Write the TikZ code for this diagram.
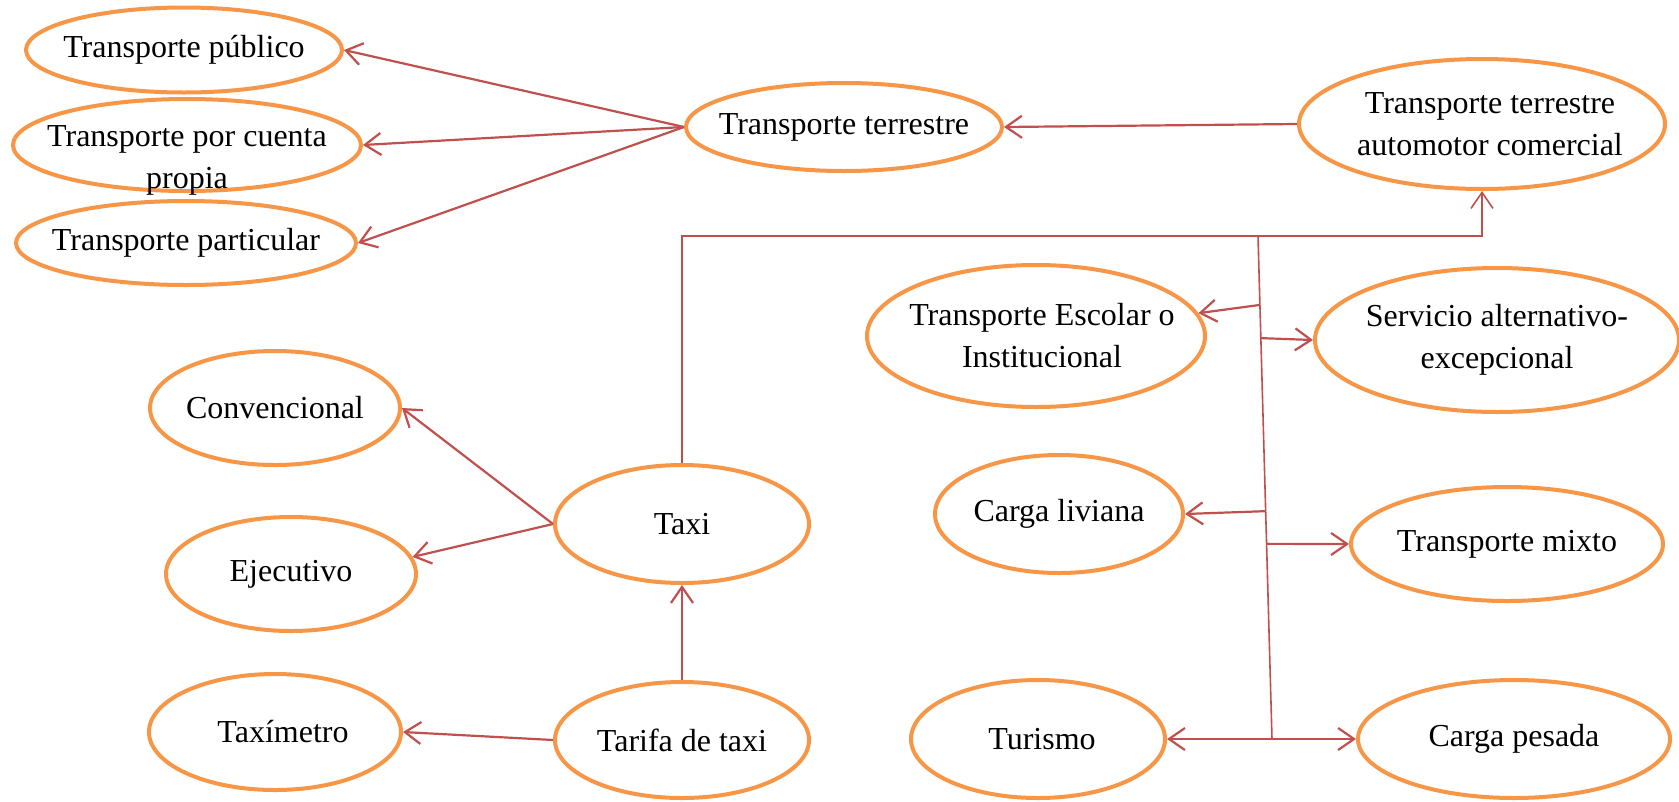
\documentclass[tikz,border=0pt]{standalone}
\usepackage{fontspec}
\setmainfont{Liberation Serif}
\usetikzlibrary{shapes.geometric,arrows.meta,calc}
\definecolor{naranja}{HTML}{F79646}
\definecolor{rojo}{HTML}{C0504D}
\begin{document}
\begin{tikzpicture}[x=1pt,y=-1pt,
    elipse/.style={ellipse,draw=naranja,line width=4pt,inner sep=0pt},
    texto/.style={font=\fontsize{32}{42}\selectfont,align=center},
    flecha/.style={draw=rojo,line width=2.2pt,-{Straight Barb[length=16pt,width=22pt]}},
    linea/.style={draw=rojo,line width=1.6pt}]
\useasboundingbox (0,0) rectangle (1679,801);
% izquierda arriba
\node[elipse,minimum width=316pt,minimum height=85pt,label={[texto]center:Transporte público}] (tpub) at (184,50) {};
\node[elipse,minimum width=348pt,minimum height=92pt,label={[texto,yshift=-15pt]center:Transporte por cuenta\\propia}] (tcp) at (187,145) {};
\node[elipse,minimum width=340pt,minimum height=84pt,label={[texto]center:Transporte particular}] (tpar) at (186,243) {};
\node[elipse,minimum width=316pt,minimum height=88pt,label={[texto]center:Transporte terrestre}] (tt) at (844,127) {};
\node[elipse,minimum width=366pt,minimum height=130pt,label={[texto,xshift=8pt]center:Transporte terrestre\\automotor comercial}] (ttac) at (1482,124) {};
% taxi
\node[elipse,minimum width=250pt,minimum height=114pt,label={[texto]center:Convencional}] (conv) at (275,408) {};
\node[elipse,minimum width=250pt,minimum height=114pt,label={[texto]center:Ejecutivo}] (ejec) at (291,574) {};
\node[elipse,minimum width=254pt,minimum height=118pt,label={[texto]center:Taxi}] (taxi) at (682,524) {};
\node[elipse,minimum width=252pt,minimum height=116pt,label={[texto,xshift=8pt]center:Taxímetro}] (taxim) at (275,732) {};
\node[elipse,minimum width=254pt,minimum height=116pt,label={[texto]center:Tarifa de taxi}] (tarifa) at (682,740) {};
% comercial
\node[elipse,minimum width=338pt,minimum height=142pt,label={[texto,xshift=6pt]center:Transporte Escolar o\\Institucional}] (escolar) at (1036,336) {};
\node[elipse,minimum width=364pt,minimum height=144pt,label={[texto]center:Servicio alternativo-\\excepcional}] (servicio) at (1497,340) {};
\node[elipse,minimum width=248pt,minimum height=118pt,label={[texto]center:Carga liviana}] (liviana) at (1059,514) {};
\node[elipse,minimum width=312pt,minimum height=114pt,label={[texto]center:Transporte mixto}] (mixto) at (1507,544) {};
\node[elipse,minimum width=254pt,minimum height=118pt,label={[texto,xshift=4pt]center:Turismo}] (turismo) at (1038,739) {};
\node[elipse,minimum width=312pt,minimum height=118pt,label={[texto]center:Carga pesada}] (pesada) at (1514,739) {};
% flechas
\draw[flecha] (tt.west) -- (tpub.east);
\draw[flecha] (tt.west) -- (tcp.east);
\draw[flecha] (tt.west) -- (tpar.east);
\draw[flecha] (ttac.west) -- (tt.east);
\draw[flecha] (taxi.west) -- (conv.east);
\draw[flecha] (taxi.west) -- (ejec.8);
\draw[flecha] (tarifa.west) -- (taxim.east);
\draw[flecha] (tarifa.north) -- (taxi.south);
\draw[linea,-{Straight Barb[length=16pt,width=22pt]}] (taxi.north) -- (taxi.north |- 0,236) -| (ttac.south);
\coordinate (ja) at (1258,236);
\coordinate (jb) at (1272,739);
\draw[linea] (ja) -- (jb);
\draw[flecha] ($(ja)!0.137!(jb)$) -- (escolar.8);
\draw[flecha] ($(ja)!0.203!(jb)$) -- (servicio.west);
\draw[flecha] ($(ja)!0.547!(jb)$) -- (liviana.east);
\draw[flecha] ($(ja)!0.612!(jb)$) -- (mixto.west);
\draw[flecha] (jb) -- (turismo.east);
\draw[flecha] (jb) -- (pesada.west);
\end{tikzpicture}
\end{document}
